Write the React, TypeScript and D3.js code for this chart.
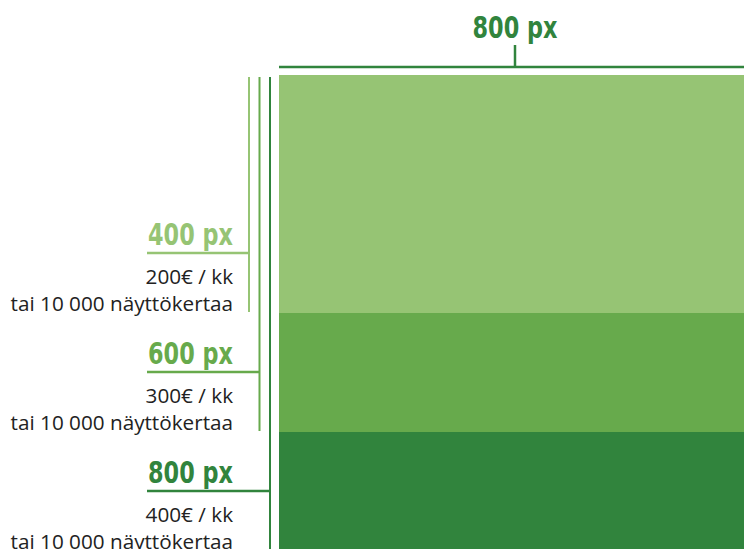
import { useEffect, useRef } from "react";
import * as d3 from "d3";

// banner heights (px) and what they cost
const sizes = [400, 600, 800];
const sizeLabels = ["400 px", "600 px", "800 px"];
const prices = ["200€ / kk", "300€ / kk", "400€ / kk"];
const reach = ["tai 10 000 näyttökertaa", "tai 10 000 näyttökertaa", "tai 10 000 näyttökertaa"];
const bannerWidth = 800;
const widthLabel = "800 px";
const colors = ["#96c474", "#67aa4c", "#31843d"];

export default function App() {
    const svgRef = useRef<SVGSVGElement | null>(null);

    useEffect(() => {
        if (!svgRef.current) return;
        const svg = d3.select(svgRef.current);
        svg.selectAll("*").remove();

        const left = 279;
        const top = 75;
        const scale = 476 / 800;

        const y = d3.scaleLinear().domain([0, 800]).range([top, top + 800 * scale]);
        const x = d3.scaleLinear().domain([0, 800]).range([left, left + 800 * scale]);

        const headFont = "'DejaVu Sans', sans-serif";
        const bodyFont = "'Open Sans', sans-serif";

        // stacked (nested) rectangles, biggest first
        const order = d3.range(sizes.length).reverse();
        svg.selectAll("rect.banner")
            .data(order)
            .enter()
            .append("rect")
            .attr("class", "banner")
            .attr("x", x(0))
            .attr("y", y(0))
            .attr("width", x(bannerWidth) - x(0))
            .attr("height", i => y(sizes[i]) - y(0))
            .attr("fill", i => colors[i]);

        // condensed bold look: squeeze the glyphs into the width seen in the original
        const headText = (sel: d3.Selection<SVGTextElement, unknown, null, undefined>) =>
            sel.attr("font-family", headFont)
                .attr("font-weight", "bold")
                .attr("font-size", 31)
                .attr("textLength", 85)
                .attr("lengthAdjust", "spacingAndGlyphs");

        // width bracket on top
        const topLineY = top - 8;
        svg.append("line")
            .attr("x1", x(0)).attr("x2", x(bannerWidth))
            .attr("y1", topLineY).attr("y2", topLineY)
            .attr("stroke", colors[2]).attr("stroke-width", 2.5);
        svg.append("line")
            .attr("x1", x(bannerWidth / 2) - 2).attr("x2", x(bannerWidth / 2) - 2)
            .attr("y1", topLineY - 22).attr("y2", topLineY)
            .attr("stroke", colors[2]).attr("stroke-width", 2.5);
        svg.append("text")
            .attr("x", x(bannerWidth / 2) - 2)
            .attr("y", 38)
            .attr("text-anchor", "middle")
            .attr("fill", colors[2])
            .call(headText)
            .text(widthLabel);

        // height brackets on the left
        sizes.forEach((s, i) => {
            const lx = 249 + i * 10.5;
            const ly = y(s) - 60;
            const g = svg.append("g");
            g.append("line")
                .attr("x1", lx).attr("x2", lx)
                .attr("y1", y(0) + 2).attr("y2", y(s) - 1)
                .attr("stroke", colors[i]).attr("stroke-width", 2);
            g.append("line")
                .attr("x1", 147).attr("x2", lx)
                .attr("y1", ly).attr("y2", ly)
                .attr("stroke", colors[i]).attr("stroke-width", 2.5);
            g.append("text")
                .attr("x", 233).attr("y", ly - 8)
                .attr("text-anchor", "end")
                .attr("fill", colors[i])
                .call(headText)
                .text(sizeLabels[i]);
            g.append("text")
                .attr("x", 233).attr("y", ly + 31)
                .attr("text-anchor", "end")
                .attr("font-family", bodyFont)
                .attr("font-size", 20.7)
                .attr("fill", "#222")
                .text(prices[i]);
            g.append("text")
                .attr("x", 233).attr("y", ly + 58)
                .attr("text-anchor", "end")
                .attr("font-family", bodyFont)
                .attr("font-size", 20.7)
                .attr("fill", "#222")
                .text(reach[i]);
        });
    }, []);

    return (
        <svg
            ref={svgRef}
            width={744}
            height={549}
            style={{ position: "absolute", left: 0, top: 0, background: "#fff" }}
        ></svg>
    );
}
